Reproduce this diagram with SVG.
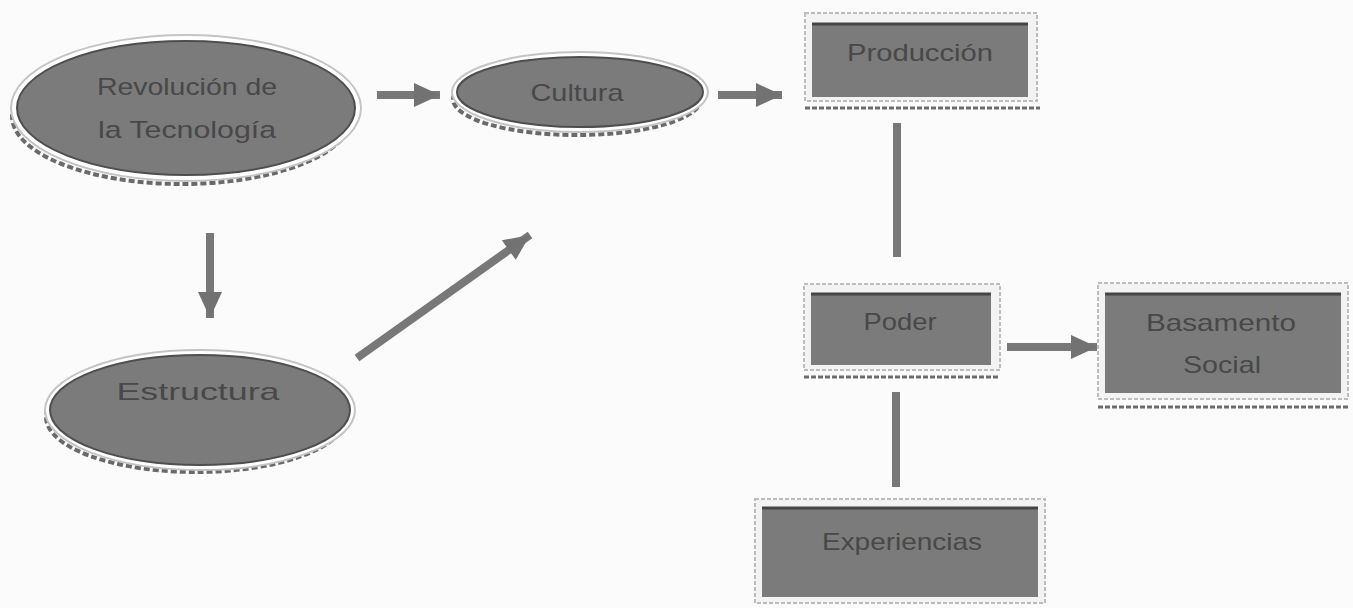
<svg xmlns="http://www.w3.org/2000/svg" width="1353" height="608" viewBox="0 0 1353 608">
<style>
.bg{fill:#fbfbfb}
.shadow{fill:none;stroke:#6a6a6a;stroke-width:4;stroke-dasharray:6 3}
.ring{fill:#ffffff;stroke:#c4c4c4;stroke-width:2}
.body{fill:#7b7b7b;stroke:#4e4e4e;stroke-width:2}
.outer{fill:#f3f3f3;stroke:#bdbdbd;stroke-width:2;stroke-dasharray:4 2}
.box{fill:#7b7b7b}
.top{stroke:#454545;stroke-width:3}
.under{stroke:#6c6c6c;stroke-width:3;stroke-dasharray:5 2}
.lbl{font-family:"Liberation Sans",Arial,sans-serif;font-size:24px;fill:#484848;text-anchor:middle}
.conn{stroke:#787878;stroke-width:8;fill:none}
</style>
<defs>
<marker id="ah" markerUnits="userSpaceOnUse" markerWidth="30" markerHeight="30" viewBox="0 0 30 30" refX="28" refY="15" orient="auto">
<path d="M2,3 L28,15 L2,27 Z" fill="#727272"/>
</marker>
</defs>
<rect class="bg" x="0" y="0" width="1353" height="608"/>

<g id="connectors">
<line class="conn" x1="377" y1="95" x2="440" y2="95" marker-end="url(#ah)"/>
<line class="conn" x1="718" y1="95" x2="782" y2="95" marker-end="url(#ah)"/>
<line class="conn" x1="210" y1="233" x2="210" y2="318" marker-end="url(#ah)"/>
<line class="conn" x1="357" y1="358" x2="530" y2="235" marker-end="url(#ah)"/>
<line class="conn" x1="897" y1="123" x2="897" y2="257"/>
<line class="conn" x1="896" y1="392" x2="896" y2="487"/>
<line class="conn" x1="1007" y1="347" x2="1097" y2="347" marker-end="url(#ah)"/>
</g>

<g id="revolucion">
<ellipse class="shadow" cx="182" cy="116" rx="170" ry="68"/>
<ellipse class="ring" cx="186" cy="108" rx="175" ry="73"/>
<ellipse class="body" cx="186" cy="108" rx="169" ry="67"/>
<text class="lbl" x="187" y="95" textLength="180" lengthAdjust="spacingAndGlyphs">Revolución de</text>
<text class="lbl" x="187" y="138" textLength="178" lengthAdjust="spacingAndGlyphs">la Tecnología</text>
</g>

<g id="cultura">
<ellipse class="shadow" cx="577" cy="99" rx="124" ry="36"/>
<ellipse class="ring" cx="580" cy="92" rx="128" ry="40"/>
<ellipse class="body" cx="580" cy="92" rx="123" ry="35"/>
<text class="lbl" x="577" y="101" textLength="93" lengthAdjust="spacingAndGlyphs">Cultura</text>
</g>

<g id="estructura">
<ellipse class="shadow" cx="196" cy="417" rx="150" ry="55"/>
<ellipse class="ring" cx="200" cy="410" rx="155" ry="60"/>
<ellipse class="body" cx="200" cy="410" rx="150" ry="55"/>
<text class="lbl" x="198" y="400" textLength="163" lengthAdjust="spacingAndGlyphs">Estructura</text>
</g>

<g id="produccion">
<rect class="outer" x="805" y="13" width="232" height="88"/>
<rect class="box" x="812" y="23" width="216" height="74"/>
<line class="top" x1="812" y1="24" x2="1028" y2="24"/>
<line class="under" x1="805" y1="108" x2="1040" y2="108"/>
<text class="lbl" x="920" y="61" textLength="146" lengthAdjust="spacingAndGlyphs">Producción</text>
</g>

<g id="poder">
<rect class="outer" x="804" y="284" width="196" height="86"/>
<rect class="box" x="811" y="293" width="180" height="72"/>
<line class="top" x1="811" y1="294" x2="991" y2="294"/>
<line class="under" x1="804" y1="377" x2="1000" y2="377"/>
<text class="lbl" x="900" y="330" textLength="73" lengthAdjust="spacingAndGlyphs">Poder</text>
</g>

<g id="basamento">
<rect class="outer" x="1098" y="283" width="250" height="116"/>
<rect class="box" x="1105" y="293" width="236" height="100"/>
<line class="top" x1="1105" y1="294" x2="1341" y2="294"/>
<line class="under" x1="1098" y1="407" x2="1350" y2="407"/>
<text class="lbl" x="1221" y="331" textLength="150" lengthAdjust="spacingAndGlyphs">Basamento</text>
<text class="lbl" x="1222" y="373" textLength="78" lengthAdjust="spacingAndGlyphs">Social</text>
</g>

<g id="experiencias">
<rect class="outer" x="755" y="499" width="290" height="104"/>
<rect class="box" x="762" y="507" width="276" height="90"/>
<line class="top" x1="762" y1="508" x2="1038" y2="508"/>
<text class="lbl" x="902" y="550" textLength="160" lengthAdjust="spacingAndGlyphs">Experiencias</text>
</g>
</svg>
